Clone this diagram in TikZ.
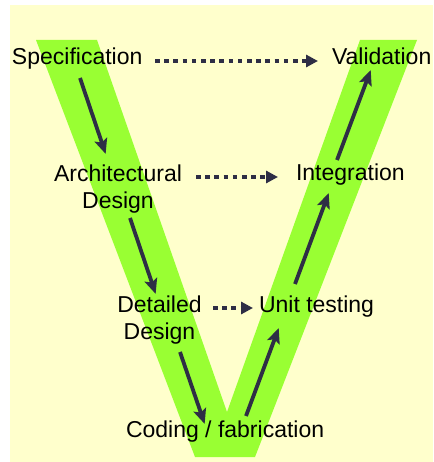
\documentclass[tikz,border=0pt]{standalone}
\usepackage{fontspec}
\setmainfont{Liberation Sans}
\usetikzlibrary{arrows.meta}
\definecolor{bgyellow}{HTML}{FFFFCC}
\definecolor{vgreen}{HTML}{99FF33}
\definecolor{arrowc}{HTML}{2E2E45}
\tikzset{
  lbl/.style={inner sep=0pt, outer sep=0pt, font=\fontsize{23}{27.5}\selectfont, text=black, align=center},
  flow/.style={draw=arrowc, line width=3.8pt, -{Stealth[length=15pt,width=13pt,inset=3pt]}, shorten >=-2pt},
  corresp/.style={draw=arrowc, line width=4pt, dash pattern=on 4.6pt off 4.6pt, -{Triangle[length=12pt,width=12pt]}}
}
\begin{document}
\begin{tikzpicture}[x=1pt,y=-1pt]
\useasboundingbox (0,0) rectangle (433,462);
\fill[white] (0,0) rectangle (433,462);
\fill[bgyellow] (10,5) rectangle (433,462);
% the V
\fill[vgreen] (36,40) -- (97,40) -- (227,412) -- (360,40) -- (417,40) -- (255,457) -- (195,457) -- cycle;
% labels
\node[lbl, anchor=base west] (spec) at (12,65) {Specification};
\node[lbl, anchor=base west] (valid) at (332,65) {Validation};
\node[lbl, anchor=base] (arch) at (118,208.5) {Architectural\\Design};
\node[lbl, anchor=base west] (integ) at (296,181) {Integration};
\node[lbl, anchor=base] (detail) at (159.5,339.5) {Detailed\\Design};
\node[lbl, anchor=base west] (unit) at (259,312) {Unit testing};
\node[lbl, anchor=base west] (code) at (126,437) {Coding / fabrication};
% connector end points
\coordinate (a1) at (80,78);   \coordinate (b1) at (105,152);
\coordinate (a2) at (130,218); \coordinate (b2) at (155,292);
\coordinate (a3) at (180,352); \coordinate (b3) at (204,422);
\coordinate (a4) at (246,416); \coordinate (b4) at (278,330);
\coordinate (a5) at (295,284); \coordinate (b5) at (328,195);
\coordinate (a6) at (337,160); \coordinate (b6) at (370,72);
\coordinate (c1) at (155,61);  \coordinate (d1) at (318,61);
\coordinate (c2) at (196,177); \coordinate (d2) at (278,177);
\coordinate (c3) at (213,308); \coordinate (d3) at (253,308);
% solid flow
\draw[flow] (a1) -- (b1);
\draw[flow] (a2) -- (b2);
\draw[flow] (a3) -- (b3);
\draw[flow] (a4) -- (b4);
\draw[flow] (a5) -- (b5);
\draw[flow] (a6) -- (b6);
% dotted correspondences
\draw[corresp] (c1) -- (d1);
\draw[corresp] (c2) -- (d2);
\draw[corresp] (c3) -- (d3);
\end{tikzpicture}
\end{document}
